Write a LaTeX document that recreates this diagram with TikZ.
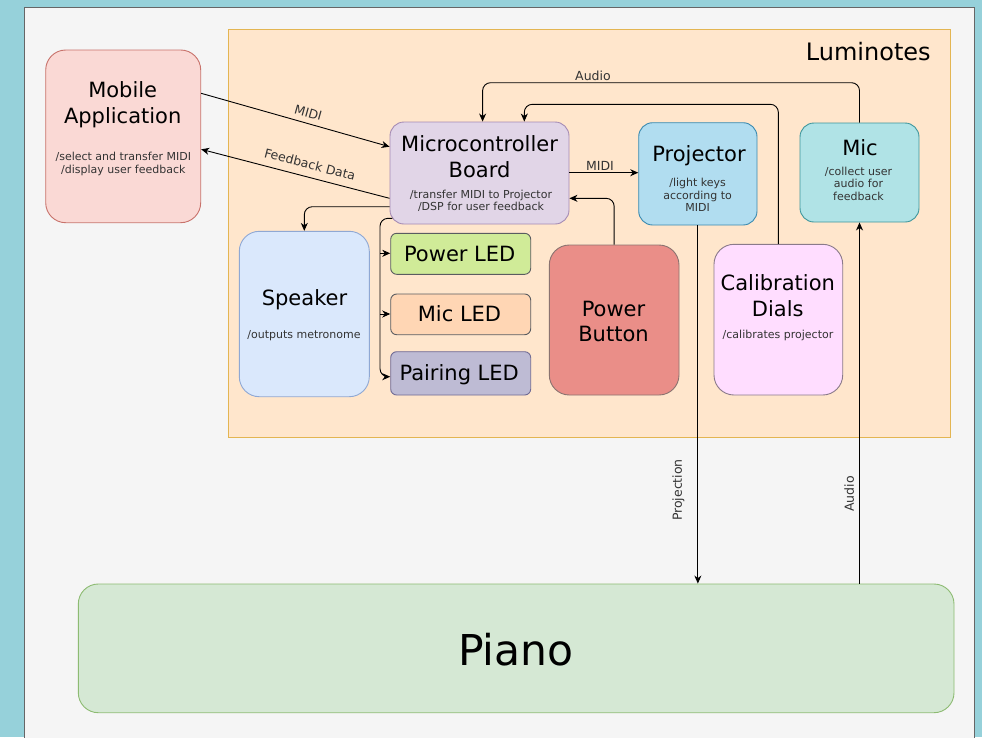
\documentclass[tikz,border=0pt]{standalone}
\usepackage{fontspec}
\setmainfont{DejaVu Sans}
\usetikzlibrary{arrows.meta}
\definecolor{bgteal}{HTML}{96D1DA}
\definecolor{panelfill}{HTML}{F5F5F5}
\definecolor{panelline}{HTML}{666666}
\definecolor{lumfill}{HTML}{FFE6CC}
\definecolor{lumline}{HTML}{E3B552}
\definecolor{mobfill}{HTML}{FAD9D5}
\definecolor{mobline}{HTML}{C8726B}
\definecolor{micfill}{HTML}{E1D5E7}
\definecolor{micline}{HTML}{A58BB4}
\definecolor{projfill}{HTML}{B1DDF0}
\definecolor{projline}{HTML}{3A8AB0}
\definecolor{mikefill}{HTML}{B0E3E6}
\definecolor{mikeline}{HTML}{3E969C}
\definecolor{spkfill}{HTML}{DAE8FC}
\definecolor{spkline}{HTML}{8FA8D4}
\definecolor{pledfill}{HTML}{D0EB98}
\definecolor{mledfill}{HTML}{FFD6B4}
\definecolor{paledfill}{HTML}{BEBBD4}
\definecolor{paledline}{HTML}{6F6A94}
\definecolor{ledline}{HTML}{5A5C60}
\definecolor{pbfill}{HTML}{EA8E88}
\definecolor{pbline}{HTML}{8A7370}
\definecolor{calfill}{HTML}{FFDDFF}
\definecolor{calline}{HTML}{8A7A8A}
\definecolor{pianofill}{HTML}{D5E8D4}
\definecolor{pianoline}{HTML}{8DBB72}
\definecolor{subtext}{HTML}{333333}
\begin{document}
\begin{tikzpicture}[x=1pt,y=-1pt,
  box/.style={draw, line width=0.9pt, inner sep=0pt},
  ttl/.style={font=\fontsize{21}{25}\selectfont, anchor=base, inner sep=0pt},
  subt/.style={font=\fontsize{11}{13}\selectfont, anchor=base, inner sep=0pt, text=subtext},
  lbl/.style={font=\fontsize{12.5}{15}\selectfont, inner sep=0pt, text=subtext},
  conn/.style={draw=black, line width=0.9pt, -{Stealth[length=8pt,width=7pt,inset=2.5pt]}}
]
\useasboundingbox (0,0) rectangle (982,737);
\clip (0,0) rectangle (982,737);
\fill[bgteal] (0,0) rectangle (982,737);
\draw[fill=panelfill, draw=panelline, line width=1pt] (24.3,7.3) rectangle (974,760);

% Luminotes container
\node[box, fill=lumfill, draw=lumline, minimum width=722pt, minimum height=408.7pt] (lumin) at (589.7,233.35) {};
\node[font=\fontsize{24}{28}\selectfont, anchor=base, inner sep=0pt] (lumtitle) at (868.3,60.7) {Luminotes};

% boxes
\node[box, fill=mobfill, draw=mobline, minimum width=155pt, minimum height=172.7pt, rounded corners=20pt] (mobile) at (123.2,136.35) {};
\node[box, fill=micfill, draw=micline, minimum width=179pt, minimum height=102pt, rounded corners=14pt] (micro) at (479.5,173) {};
\node[box, fill=projfill, draw=projline, minimum width=118.3pt, minimum height=102.3pt, rounded corners=14pt] (proj) at (697.85,173.85) {};
\node[box, fill=mikefill, draw=mikeline, minimum width=119pt, minimum height=99pt, rounded corners=14pt] (mic) at (859.5,172.5) {};
\node[box, fill=spkfill, draw=spkline, minimum width=130pt, minimum height=165.4pt, rounded corners=20pt] (speaker) at (304.3,314) {};
\node[box, fill=pledfill, draw=ledline, minimum width=140pt, minimum height=41pt, rounded corners=6pt] (pled) at (460.7,253.8) {};
\node[box, fill=mledfill, draw=ledline, minimum width=140pt, minimum height=40.7pt, rounded corners=6pt] (mled) at (460.7,314.35) {};
\node[box, fill=paledfill, draw=paledline, minimum width=140pt, minimum height=43.3pt, rounded corners=6pt] (paled) at (460.7,373.35) {};
\node[box, fill=pbfill, draw=pbline, minimum width=129.7pt, minimum height=150pt, rounded corners=20pt] (pbtn) at (614.15,320) {};
\node[box, fill=calfill, draw=calline, minimum width=128.7pt, minimum height=150.7pt, rounded corners=20pt] (calib) at (778.35,319.65) {};
\node[box, fill=pianofill, draw=pianoline, minimum width=875.7pt, minimum height=128.7pt, rounded corners=20pt] (piano) at (516.15,648.35) {};

% texts
\node[ttl] (mobT1) at (122.7,97.3) {Mobile};
\node[ttl] (mobT2) at (122.7,123.3) {Application};
\node[subt] (mobS1) at (123.3,160.7) {/select and transfer MIDI};
\node[subt] (mobS2) at (123.3,173.3) {/display user feedback};

\node[ttl] (micT1) at (479.5,151.7) {Microcontroller};
\node[ttl] (micT2) at (479.5,177) {Board};
\node[subt] (micS1) at (481,198) {/transfer MIDI to Projector};
\node[subt] (micS2) at (481,210.7) {/DSP for user feedback};

\node[ttl] (projT) at (699,161.7) {Projector};
\node[subt] (projS1) at (697.6,186.7) {/light keys};
\node[subt] (projS2) at (697.6,199.2) {according to};
\node[subt] (projS3) at (697.6,211.7) {MIDI};

\node[ttl] (mikeT) at (860,155) {Mic};
\node[subt] (mikeS1) at (858.5,175) {/collect user};
\node[subt] (mikeS2) at (858.5,187.6) {audio for};
\node[subt] (mikeS3) at (858.5,200.2) {feedback};

\node[ttl] (spkT) at (304.5,305) {Speaker};
\node[subt] (spkS) at (304,338.3) {/outputs metronome};

\node[ttl] (pledT) at (459.7,261.7) {Power LED};
\node[ttl] (mledT) at (459.5,321.7) {Mic LED};
\node[ttl] (paledT) at (459.2,380.7) {Pairing LED};

\node[ttl] (pbT1) at (613.5,316) {Power};
\node[ttl] (pbT2) at (613.5,341.7) {Button};

\node[ttl] (calT1) at (777.8,290) {Calibration};
\node[ttl] (calT2) at (777.8,316.7) {Dials};
\node[subt] (calS) at (778,338.3) {/calibrates projector};

\node[font=\fontsize{42.5}{48}\selectfont, anchor=base, inner sep=0pt] (pianoT) at (516,665) {Piano};

% connectors
\draw[conn] (mobile.east |- 0,93.3) -- (micro.west |- 0,146.7);
\node[lbl, rotate=-15.7] (lmidi1) at (308.3,112.8) {MIDI};
\draw[conn] (micro.west |- 0,198.3) -- (mobile.east |- 0,149.3);
\node[lbl, rotate=-14.5] (lfeed) at (310,164.5) {Feedback Data};

\draw[conn, rounded corners=8pt] (micro.west |- 0,206.7) -| (speaker.north);

\coordinate (ledsrc) at (392.3,218.3);
\coordinate (busP) at (380,253.3);
\coordinate (busM) at (380,314);
\draw[conn, rounded corners=8pt] (ledsrc) -| (380,376.7) -- (paled.west |- 0,376.7);
\draw[conn] (busP) -- (pled.west |- busP);
\draw[conn] (busM) -- (mled.west |- busM);

\draw[conn] (micro.east |- 0,172.7) -- (proj.west |- 0,172.7);
\node[lbl, anchor=base] (lmidi2) at (600,170) {MIDI};

\draw[conn, rounded corners=8pt] (pbtn.north) |- (micro.east |- 0,198.3);

\draw[conn, rounded corners=8pt] (calib.north) |- (524.3,104.3) -- (micro.north -| 524.3,0);

\draw[conn, rounded corners=8pt] (mic.north) |- (482.6,82.7) -- (micro.north -| 482.6,0);
\node[lbl, anchor=base] (laudio1) at (593,80) {Audio};

\draw[conn] (proj.south) -- (piano.north -| proj.south);
\node[lbl, rotate=90] (lproj) at (678.3,490) {Projection};

\draw[conn] (piano.north -| mic.south) -- (mic.south);
\node[lbl, rotate=90] (laudio2) at (849.3,493.8) {Audio};
\end{tikzpicture}
\end{document}
